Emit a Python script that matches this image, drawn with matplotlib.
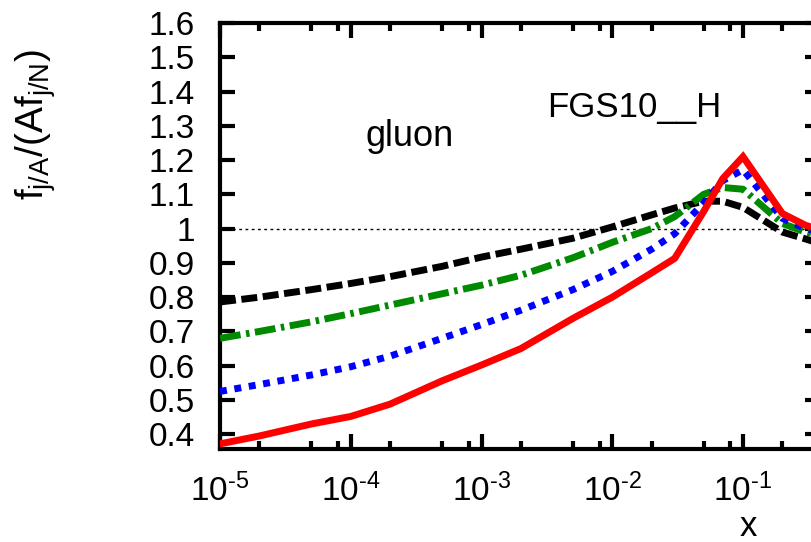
import matplotlib
matplotlib.use('Agg')
import matplotlib.pyplot as plt
from matplotlib.ticker import FixedLocator, FuncFormatter
import numpy as np

plt.rcParams['font.family'] = ['Liberation Sans', 'DejaVu Sans']
plt.rcParams['mathtext.fontset'] = 'custom'
plt.rcParams['mathtext.rm'] = 'Liberation Sans'
plt.rcParams['mathtext.it'] = 'Liberation Sans'
plt.rcParams['mathtext.bf'] = 'Liberation Sans:bold'

# Data
x = [1e-5, 2e-5, 5e-5, 1e-4, 2e-4, 5e-4, 1e-3, 2e-3, 5e-3, 1e-2,
     2e-2, 3e-2, 5e-2, 7e-2, 0.1, 0.2, 0.3, 0.4]
red = [0.372, 0.395, 0.430, 0.452, 0.488, 0.556, 0.602, 0.650, 0.738, 0.800,
       0.871, 0.913, 1.050, 1.146, 1.210, 1.044, 1.010, 0.995]
blue = [0.525, 0.545, 0.573, 0.597, 0.628, 0.680, 0.720, 0.762, 0.822, 0.875,
        0.940, 0.985, 1.075, 1.140, 1.172, 1.030, 1.000, 0.990]
green = [0.680, 0.700, 0.728, 0.752, 0.777, 0.810, 0.835, 0.864, 0.915, 0.960,
         1.000, 1.035, 1.100, 1.120, 1.115, 1.015, 0.990, 0.980]
black = [0.786, 0.800, 0.822, 0.840, 0.860, 0.890, 0.917, 0.940, 0.972, 1.005,
         1.040, 1.060, 1.080, 1.080, 1.062, 0.990, 0.970, 0.955]

fig = plt.figure(figsize=(8.12, 5.42), dpi=100)
ax = fig.add_axes([220/812, 93/542, 600/812, 426/542])

lw = 5
ax.axhline(1.0, color='black', lw=1.0, ls=(0, (2, 2.5)), zorder=1)
ax.plot(x, black, color='black', lw=lw, dashes=(2.3, 0.8), zorder=2)
ax.plot(x, green, color='#008a00', lw=lw, dashes=(3.0, 0.8, 0.5, 0.8), zorder=3)
ax.plot(x, blue, color='#0000ff', lw=lw, dashes=(1.0, 1.1), zorder=4)
ax.plot(x, red, color='#ff0000', lw=lw, solid_joinstyle='miter', zorder=5)

ax.set_xscale('log')
ax.set_xlim(1e-5, 0.388)
ax.set_ylim(0.357, 1.6)

ax.xaxis.set_major_locator(FixedLocator([1e-5, 1e-4, 1e-3, 1e-2, 1e-1]))
minors = [m * 10.0**e for e in range(-5, 0) for m in (2, 5, 8)]
ax.xaxis.set_minor_locator(FixedLocator(minors))
ax.xaxis.set_major_formatter(
    FuncFormatter(lambda v, p: '$10^{\u2010%d}$' % abs(round(np.log10(v)))))
ax.xaxis.set_minor_formatter(FuncFormatter(lambda v, p: ''))

ax.yaxis.set_major_locator(FixedLocator(np.round(np.arange(0.4, 1.61, 0.1), 1)))
ax.yaxis.set_major_formatter(FuncFormatter(lambda v, p: '%g' % v))

for s in ax.spines.values():
    s.set_linewidth(3)
ax.tick_params(which='major', direction='in', length=11, width=3,
               top=True, right=True, labelsize=24)
ax.tick_params(which='minor', direction='in', length=5.5, width=3,
               top=True, right=True)
ax.tick_params(axis='y', pad=18)
ax.tick_params(axis='x', pad=18)

ax.text(10**-3.547, 1.24, 'gluon', fontsize=26, ha='center', va='baseline')
ax.text(10**-1.834, 1.325, 'FGS10__H', fontsize=25, ha='center', va='baseline')

fig.text(36/812, 1 - 125/542, r'$f_{j/A}/(Af_{j/N})$', fontsize=28,
         rotation=90, ha='center', va='center')
fig.text(748/812, 1 - 526/542, 'x', fontsize=25, ha='center', va='center')

fig.savefig('out.png', dpi=100)
